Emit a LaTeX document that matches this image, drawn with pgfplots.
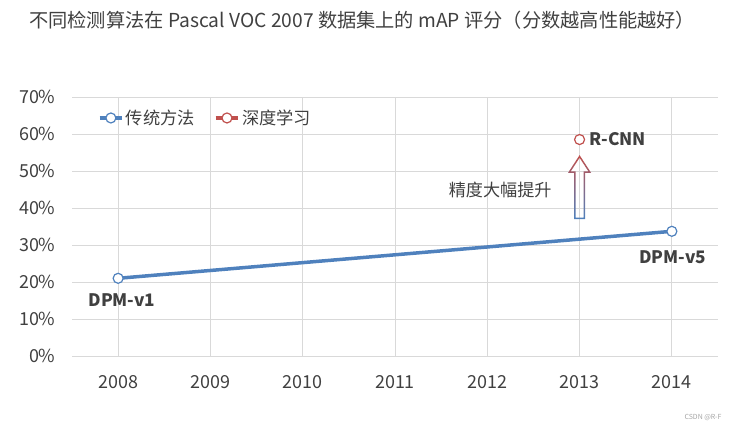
\documentclass[border=0pt]{standalone}
\usepackage{pgfplots}
\pgfplotsset{compat=1.18}
\usepackage{fontspec}
\setmainfont{Noto Sans CJK SC}
\definecolor{cblue}{RGB}{79,129,189}
\definecolor{cred}{RGB}{192,80,77}
\definecolor{ctext}{RGB}{64,64,64}
\definecolor{cgrid}{RGB}{217,217,217}
\begin{document}
\begin{tikzpicture}
\useasboundingbox (0,0) rectangle (747bp,431bp);
\node[anchor=west, text=ctext, font=\fontsize{19.3}{21}\selectfont, inner sep=0pt] at (29bp,411bp) {不同检测算法在 Pascal VOC 2007 数据集上的 mAP 评分（分数越高性能越好）};
\begin{axis}[
  at={(72bp,75bp)}, anchor=south west, scale only axis,
  width=646bp, height=259bp,
  xmin=-0.5, xmax=6.5, ymin=0, ymax=70,
  xtick={0,1,2,3,4,5,6},
  xticklabels={2008,2009,2010,2011,2012,2013,2014},
  ytick={0,10,20,30,40,50,60,70},
  yticklabel={\pgfmathprintnumber{\tick}\%},
  /pgf/number format/assume math mode=true,
  grid=major,
  major grid style={cgrid, line width=0.8pt},
  axis line style={draw=none},
  major tick length=0pt,
  tick label style={text=ctext, font=\fontsize{18}{20}\selectfont},
  yticklabel style={xshift=-13bp},
  xticklabel style={yshift=-16bp},
  legend columns=2,
  legend style={draw=none, fill=none, at={(0.035,0.919)}, anchor=west,
    font=\fontsize{17.3}{19}\selectfont, text=ctext,
    /tikz/every even column/.append style={column sep=17bp}},
  legend image code/.code={\draw[mark repeat=2,mark phase=2] plot coordinates {(0cm,0cm) (0.4cm,0cm) (0.8cm,0cm)};},
]
\addplot[cblue, line width=3.5bp, mark=*, mark size=5bp,
  mark options={fill=white, draw=cblue, line width=1.2bp}]
  coordinates {(0,21.0) (6,33.7)};
\addlegendentry{传统方法}
\addplot[cred, line width=3.5bp, mark=*, mark size=5bp,
  mark options={fill=white, draw=cred, line width=1.2bp}]
  coordinates {(5,58.5)};
\addlegendentry{深度学习}
\coordinate (B) at (axis cs:5,37);
\node[font=\fontsize{17.3}{19}\selectfont\bfseries, text=ctext] at (axis cs:0.04,15.2) {DPM-v1};
\node[font=\fontsize{17.3}{19}\selectfont\bfseries, text=ctext] at (axis cs:6.01,26.8) {DPM-v5};
\node[font=\fontsize{17.3}{19}\selectfont\bfseries, text=ctext, anchor=west, inner sep=0pt] at (axis cs:5.11,58.6) {R-CNN};
\node[font=\fontsize{17.2}{19}\selectfont, text=ctext] at (axis cs:4.14,44.9) {精度大幅提升};
\end{axis}
\begin{scope}[shift={(B)}, x=1bp, y=1bp]
\shade[top color=cred, bottom color=cblue, middle color=cred!50!cblue, even odd rule]
  (-5.5,0) -- (5.5,0) -- (5.5,46.3) -- (11.5,46.3) -- (0,64) -- (-11.5,46.3) -- (-5.5,46.3) -- cycle
  (-4,1.5) -- (4,1.5) -- (4,47.8) -- (8.8,47.8) -- (0,61.3) -- (-8.8,47.8) -- (-4,47.8) -- cycle;
\end{scope}
\node[font=\fontsize{7}{8}\selectfont, text=gray!70] at (703bp,13bp) {CSDN @R-F};
\end{tikzpicture}
\end{document}
